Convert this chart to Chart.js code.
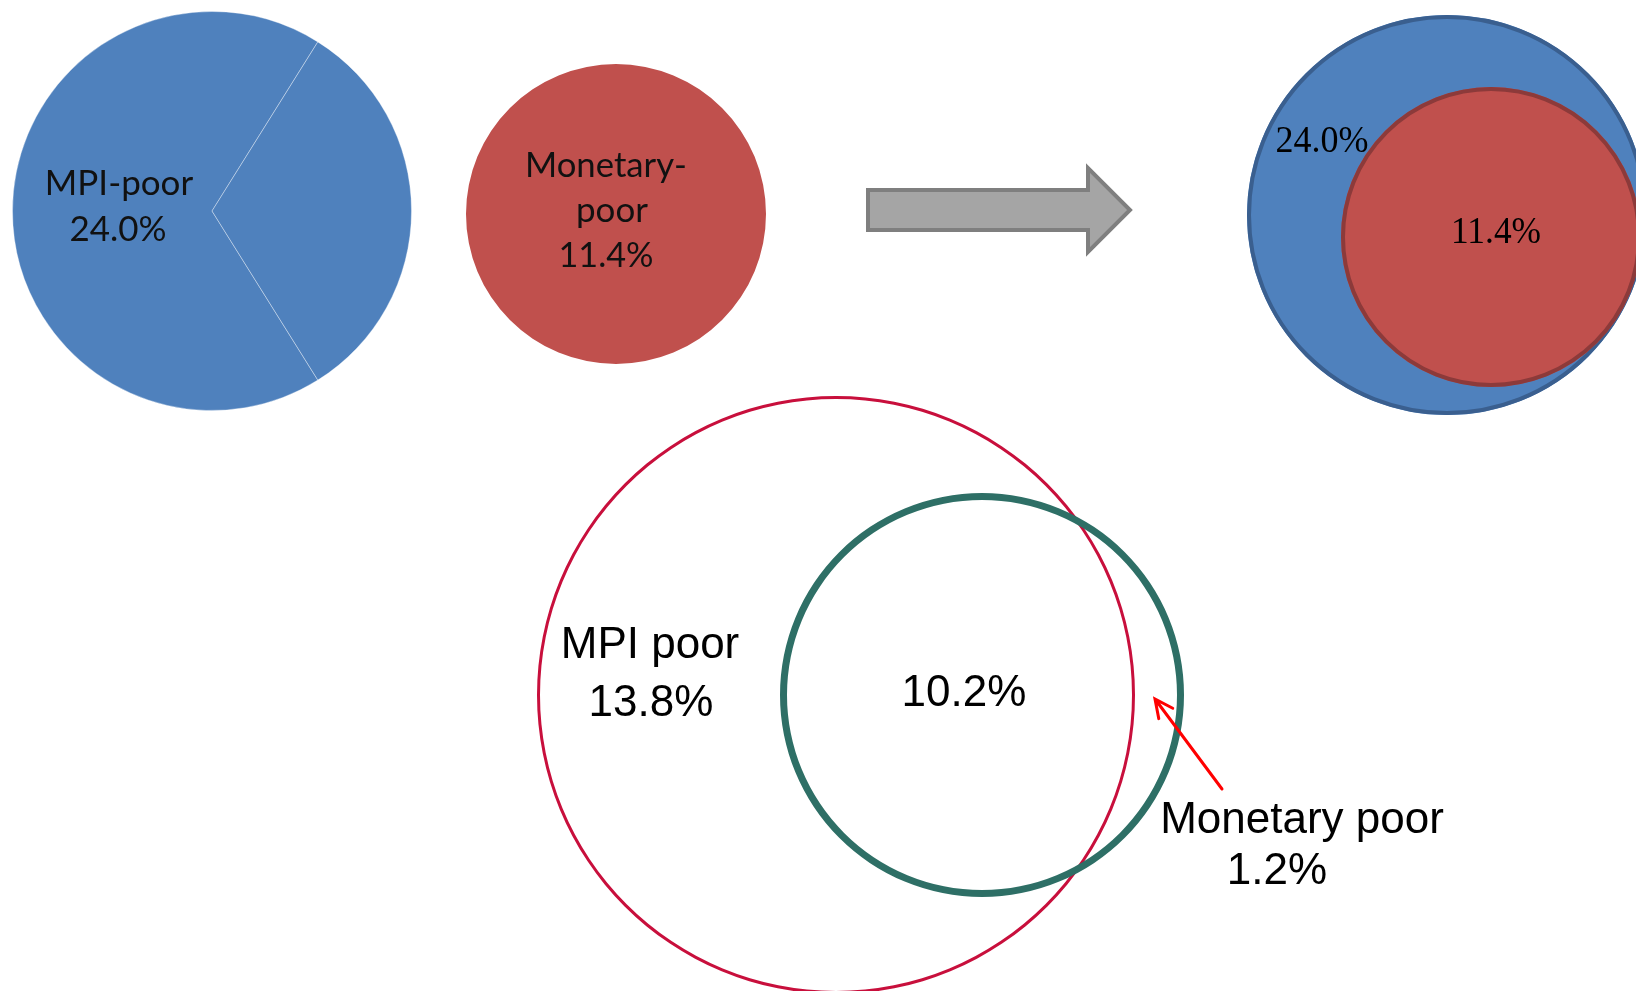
<!DOCTYPE html>
<html>
<head>
<meta charset="utf-8">
<script src="https://cdn.jsdelivr.net/npm/chart.js@4.4.1/dist/chart.umd.min.js"></script>
<style>
  html, body { margin: 0; padding: 0; background: #fff; }
  #page { position: relative; width: 1636px; height: 991px; overflow: hidden; background: #fff; }
  #page canvas { position: absolute; }
</style>
</head>
<body>
<div id="page"></div>
<script>
// Headcount ratios (% of population)
const groupLabels = ["MPI-poor", "Monetary-poor"];
const groupLines = [["MPI-poor"], ["Monetary-", "poor"]];
const headcount = [24.0, 11.4];

// Overlap breakdown
const overlapLabels = ["MPI poor", "Both", "Monetary poor"];
const overlapShare = [13.8, 10.2, 1.2];

const BLUE = "#4f81bd";
const RED = "#c0504d";
const pct = (v) => v.toFixed(1) + "%";

const page = document.getElementById("page");

// text drawn relative to the circle centre
const circleText = {
  id: "circleText",
  afterDatasetsDraw(chart, args, opts) {
    const arc = chart.getDatasetMeta(0).data[0];
    const { ctx } = chart;
    ctx.save();
    ctx.fillStyle = opts.color || "#000";
    ctx.font = opts.font;
    ctx.textAlign = "center";
    ctx.textBaseline = "alphabetic";
    (opts.lines || []).forEach((l) => {
      if (l.maxWidth) ctx.fillText(l.text, arc.x + l.dx, arc.y + l.dy, l.maxWidth);
      else ctx.fillText(l.text, arc.x + l.dx, arc.y + l.dy);
    });
    ctx.restore();
  },
};

// outline stroke on the rim of a full pie
const outline = {
  id: "outline",
  afterDatasetsDraw(chart, args, opts) {
    if (!opts.color) return;
    const arc = chart.getDatasetMeta(0).data[0];
    const { ctx } = chart;
    ctx.save();
    ctx.strokeStyle = opts.color;
    ctx.lineWidth = opts.width;
    ctx.beginPath();
    ctx.arc(arc.x, arc.y, arc.outerRadius - opts.width / 2, 0, Math.PI * 2);
    ctx.stroke();
    ctx.restore();
  },
};

// block arrow and pointer arrow, offsets from the circle centre
const arrows = {
  id: "arrows",
  afterDraw(chart, args, opts) {
    const arc = chart.getDatasetMeta(0).data[0];
    const { ctx } = chart;
    const ox = arc.x, oy = arc.y;
    ctx.save();
    if (opts.block) {
      const b = opts.block;
      ctx.beginPath();
      ctx.moveTo(ox + b.x0, oy + b.y - b.shaft);
      ctx.lineTo(ox + b.xh, oy + b.y - b.shaft);
      ctx.lineTo(ox + b.xh, oy + b.y - b.head);
      ctx.lineTo(ox + b.x1, oy + b.y);
      ctx.lineTo(ox + b.xh, oy + b.y + b.head);
      ctx.lineTo(ox + b.xh, oy + b.y + b.shaft);
      ctx.lineTo(ox + b.x0, oy + b.y + b.shaft);
      ctx.closePath();
      ctx.fillStyle = "#a5a5a5";
      ctx.fill();
      ctx.lineWidth = 4;
      ctx.strokeStyle = "#7f7f7f";
      ctx.stroke();
    }
    if (opts.pointer) {
      const p = opts.pointer;
      const tx = ox + p.tip[0], ty = oy + p.tip[1];
      const sx = ox + p.tail[0], sy = oy + p.tail[1];
      const a = Math.atan2(ty - sy, tx - sx);
      ctx.strokeStyle = "#ff0000";
      ctx.lineWidth = 3;
      ctx.lineCap = "round";
      ctx.beginPath();
      ctx.moveTo(sx, sy);
      ctx.lineTo(tx, ty);
      ctx.moveTo(tx - 20 * Math.cos(a - 0.45), ty - 20 * Math.sin(a - 0.45));
      ctx.lineTo(tx, ty);
      ctx.lineTo(tx - 20 * Math.cos(a + 0.45), ty - 20 * Math.sin(a + 0.45));
      ctx.stroke();
    }
    ctx.restore();
  },
};

const baseOptions = () => ({
  responsive: false,
  animation: false,
  events: [],
  plugins: { legend: { display: false }, tooltip: { enabled: false } },
});

function addChart(box, center, radius, config) {
  const [x0, y0, x1, y1] = box;
  const [cx, cy] = center;
  const canvas = document.createElement("canvas");
  canvas.width = x1 - x0;
  canvas.height = y1 - y0;
  canvas.style.left = x0 + "px";
  canvas.style.top = y0 + "px";
  page.appendChild(canvas);
  config.options.layout = {
    padding: { left: cx - radius - x0, right: x1 - cx - radius, top: cy - radius - y0, bottom: y1 - cy - radius },
  };
  config.plugins = [outline, circleText, arrows];
  return new Chart(canvas, config);
}

// left pie: MPI-poor, split by the monetary share
const monAngle = (360 * headcount[1]) / (headcount[0] + headcount[1]);
const mpiOpts = baseOptions();
mpiOpts.rotation = 90 + monAngle / 2;
mpiOpts.plugins.circleText = {
  font: "35px Lato, 'Open Sans', sans-serif",
  color: "#111",
  lines: [
    { text: groupLines[0][0], dx: -93, dy: -16, maxWidth: 150 },
    { text: pct(headcount[0]), dx: -94, dy: 30, maxWidth: 97 },
  ],
};
addChart([0, 0, 430, 430], [212, 211], 200, {
  type: "pie",
  data: {
    labels: groupLabels,
    datasets: [{ data: headcount, backgroundColor: [BLUE, BLUE], borderColor: "rgba(255,255,255,0.35)", borderWidth: 1, hoverOffset: 0 }],
  },
  options: mpiOpts,
});

// middle pie: Monetary-poor, with the block arrow
const monOpts = baseOptions();
monOpts.plugins.circleText = {
  font: "35px Lato, 'Open Sans', sans-serif",
  color: "#111",
  lines: [
    { text: groupLines[1][0], dx: -10, dy: -37, maxWidth: 162 },
    { text: groupLines[1][1], dx: -4, dy: 8, maxWidth: 72 },
    { text: pct(headcount[1]), dx: -10, dy: 53, maxWidth: 95 },
  ],
};
monOpts.plugins.arrows = { block: { x0: 252, xh: 472, x1: 514, y: -4, shaft: 20, head: 42 } };
addChart([440, 0, 1150, 430], [616, 214], 150, {
  type: "pie",
  data: {
    labels: [groupLabels[1]],
    datasets: [{ data: [headcount[1]], backgroundColor: [RED], borderWidth: 0, hoverOffset: 0 }],
  },
  options: monOpts,
});

// right: nested circles
const serifFont = "38px 'Liberation Serif', 'Times New Roman', serif";

const outerOpts = baseOptions();
outerOpts.plugins.outline = { color: "#3a5f8f", width: 4 };
outerOpts.plugins.circleText = {
  font: serifFont,
  color: "#000",
  lines: [{ text: pct(headcount[0]), dx: -125, dy: -63, maxWidth: 93 }],
};
addChart([1230, 0, 1670, 430], [1447, 215], 200, {
  type: "pie",
  data: { labels: [groupLabels[0]], datasets: [{ data: [headcount[0]], backgroundColor: [BLUE], borderWidth: 0, hoverOffset: 0 }] },
  options: outerOpts,
});

const innerOpts = baseOptions();
innerOpts.plugins.outline = { color: "#8c3a3a", width: 4 };
innerOpts.plugins.circleText = {
  font: serifFont,
  color: "#000",
  lines: [{ text: pct(headcount[1]), dx: 5, dy: 6, maxWidth: 90 }],
};
addChart([1320, 60, 1670, 420], [1491, 237], 150, {
  type: "pie",
  data: { labels: [groupLabels[1]], datasets: [{ data: [headcount[1]], backgroundColor: [RED], borderWidth: 0, hoverOffset: 0 }] },
  options: innerOpts,
});

// bottom Venn: outline rings
const ringFont = "44px 'Liberation Sans', Arial, sans-serif";

const mpiRingOpts = baseOptions();
mpiRingOpts.cutout = 296;
mpiRingOpts.plugins.circleText = {
  font: ringFont,
  color: "#000",
  lines: [
    { text: overlapLabels[0], dx: -186, dy: -37 },
    { text: pct(overlapShare[0]), dx: -185, dy: 21 },
  ],
};
addChart([520, 380, 1160, 1010], [836, 695], 299, {
  type: "doughnut",
  data: {
    labels: [overlapLabels[0]],
    datasets: [{ data: [overlapShare[0] + overlapShare[1]], backgroundColor: ["#c80f3c"], borderWidth: 0, hoverOffset: 0 }],
  },
  options: mpiRingOpts,
});

const monRingOpts = baseOptions();
monRingOpts.cutout = 195;
monRingOpts.plugins.circleText = {
  font: ringFont,
  color: "#000",
  lines: [
    { text: pct(overlapShare[1]), dx: -18, dy: 11 },
    { text: overlapLabels[2], dx: 320, dy: 138 },
    { text: pct(overlapShare[2]), dx: 295, dy: 189 },
  ],
};
monRingOpts.plugins.arrows = { pointer: { tip: [173, 4], tail: [240, 94] } };
addChart([760, 470, 1460, 920], [982, 695], 202, {
  type: "doughnut",
  data: {
    labels: [overlapLabels[2]],
    datasets: [{ data: [overlapShare[1] + overlapShare[2]], backgroundColor: ["#2e6f66"], borderWidth: 0, hoverOffset: 0 }],
  },
  options: monRingOpts,
});
</script>
</body>
</html>
